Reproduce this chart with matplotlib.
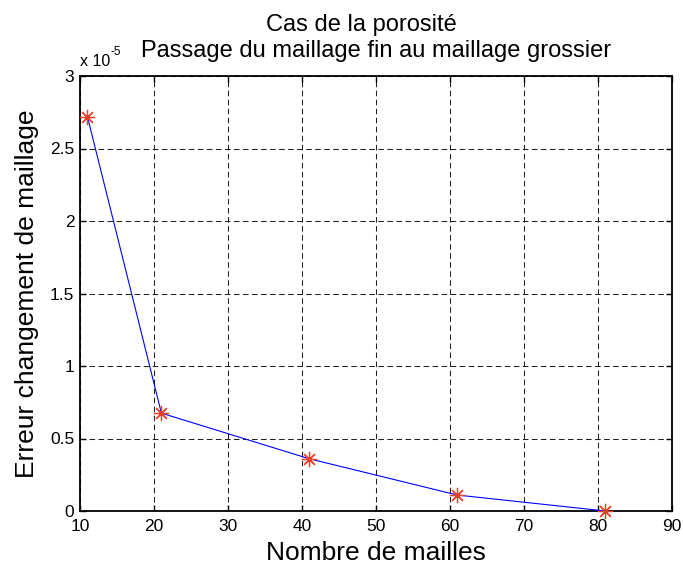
import matplotlib
matplotlib.use("Agg")
from matplotlib import pyplot as plt

# donnees
nb_mailles = [11, 21, 41, 61, 81]
erreur = [2.72e-5, 0.675e-5, 0.36e-5, 0.11e-5, 0.0]
xticks = [10, 20, 30, 40, 50, 60, 70, 80, 90]
yticks = [0, 0.5e-5, 1e-5, 1.5e-5, 2e-5, 2.5e-5, 3e-5]
ytick_labels = ["0", "0.5", "1", "1.5", "2", "2.5", "3"]

plt.rcParams['font.family'] = ['Liberation Sans', 'DejaVu Sans']
plt.rcParams['lines.scale_dashes'] = False

fig = plt.figure(figsize=(6.83, 5.65), dpi=100)
ax = fig.add_axes([80/683, 54/565, 592/683, 435/565])

ax.plot(nb_mailles, erreur, color='#0000ff', lw=0.8, zorder=3)
ax.plot(nb_mailles, erreur, ls='none', marker=(8, 2, 0), ms=11, mew=0.9,
        color='#e8402a', zorder=4, clip_on=False)

ax.set_xlim(10, 90)
ax.set_ylim(0, 3e-5)
ax.set_xticks(xticks)
ax.set_yticks(yticks)
ax.set_yticklabels(ytick_labels)

ax.grid(True, color='#222222', lw=0.75, ls=(0, (4, 2.5)))
ax.set_axisbelow(True)
for s in ax.spines.values():
    s.set_linewidth(1.3)
ax.tick_params(direction='in', length=4, width=1, top=True, right=True,
               labelsize=12.5)
ax.tick_params(axis='x', pad=5.5)
ax.tick_params(axis='y', pad=4)

ax.set_xlabel("Nombre de mailles", fontsize=19)
ax.xaxis.set_label_coords(0.5, -0.069)
ax.set_ylabel("Erreur changement de maillage", fontsize=19)
ax.yaxis.set_label_coords(-0.069, 0.5)

ax.text(0.475, 1.1034, "Cas de la porosit\u00e9", transform=ax.transAxes,
        ha='center', va='baseline', fontsize=17)
ax.text(0.5, 1.0437, "Passage du maillage fin au maillage grossier",
        transform=ax.transAxes, ha='center', va='baseline', fontsize=17)

# multiplicateur de l'axe y, facon matlab
ax.text(0.0, 1.024, "x 10", transform=ax.transAxes,
        ha='left', va='baseline', fontsize=11.5)
ax.annotate("-5", xy=(0.0, 1.024), xycoords='axes fraction',
            xytext=(22.2, 7.5), textcoords='offset points',
            ha='left', va='baseline', fontsize=8.5)

fig.savefig("out.png", dpi=100)
